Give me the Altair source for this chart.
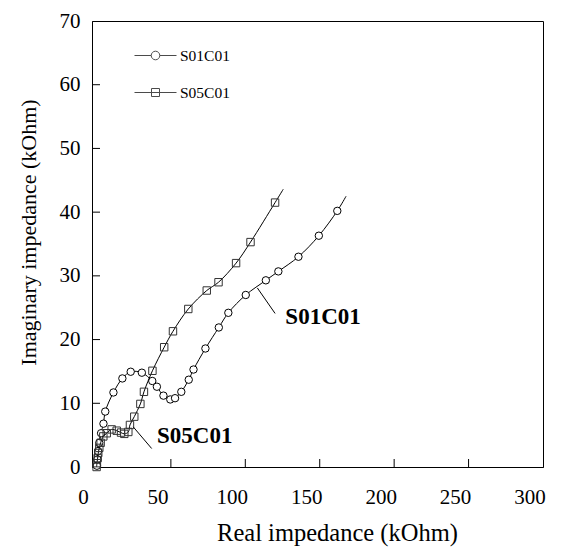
import altair as alt
import pandas as pd

# ---- data ----
series_names = ["S01C01", "S05C01"]

s01_x = [0.3, 0.6, 1.1, 1.9, 3.1, 4.7, 5.9, 11.4, 17.4, 23.0, 30.5, 37.5, 40.6, 45.0,
         49.6, 52.8, 57.0, 62.0, 65.2, 73.2, 82.2, 88.6, 100.3, 113.8, 122.2, 135.7,
         149.4, 161.8, 167.7]
s01_y = [0.2, 1.2, 2.5, 3.8, 5.3, 6.8, 8.7, 11.7, 13.9, 14.95, 14.8, 13.5, 12.6, 11.2,
         10.6, 10.8, 11.8, 13.7, 15.3, 18.6, 21.9, 24.2, 27.0, 29.3, 30.7, 33.0,
         36.3, 40.2, 42.5]

s05_x = [0.1, 0.3, 0.8, 1.2, 1.9, 2.8, 4.6, 6.9, 10.2, 13.6, 16.5, 18.7, 21.4, 22.5,
         25.4, 29.5, 31.9, 37.6, 45.5, 51.4, 61.7, 74.1, 82.0, 93.8, 103.5, 120.0, 125.5]
s05_y = [0.0, 0.6, 1.4, 2.2, 3.0, 3.8, 4.8, 5.3, 5.9, 5.7, 5.4, 5.2, 5.5, 6.6,
         7.9, 9.9, 11.8, 15.1, 18.8, 21.3, 24.8, 27.7, 29.0, 32.0, 35.3, 41.5, 43.6]

x_ticks = [0, 50, 100, 150, 200, 250, 300]
y_ticks = [0, 10, 20, 30, 40, 50, 60, 70]
inner_x_ticks = [50, 100, 150, 200, 250]
inner_y_ticks = [10, 20, 30, 40, 50, 60]
x_domain = [-3, 300]
y_domain = [0, 70]

note_labels = ["S01C01", "S05C01"]
note_x = [126.9, 40.7]
note_y = [23.6, 4.8]
leader_x = [108.1, 24.7]
leader_y = [28.1, 6.3]
leader_x2 = [120.0, 37.1]
leader_y2 = [24.1, 2.9]

# ---- tables ----
def series_df(xs, ys):
    n = len(xs)
    return pd.DataFrame({"x": xs, "y": ys, "order": list(range(n)),
                         "marker": [i < n - 1 for i in range(n)]})

df01 = series_df(s01_x, s01_y)
df05 = series_df(s05_x, s05_y)
notes = pd.DataFrame({"label": note_labels, "x": note_x, "y": note_y})
leaders = pd.DataFrame({"x": leader_x, "y": leader_y, "x2": leader_x2, "y2": leader_y2})
xt = pd.DataFrame({"t": inner_x_ticks})
yt = pd.DataFrame({"t": inner_y_ticks})
xl = pd.DataFrame({"t": x_ticks, "lab": [str(v) for v in x_ticks]})
legend_df = pd.DataFrame({"series": series_names})

FONT = "Liberation Serif"
xs = alt.Scale(domain=x_domain, nice=False, zero=False)
ys = alt.Scale(domain=y_domain, nice=False, zero=False)
xaxis = alt.Axis(title="Real impedance (kOhm)", values=x_ticks, ticks=False, tickSize=0,
                 labels=False, grid=False, domainColor="black", domainWidth=1,
                 titleX=245, titleY=73, titleBaseline="alphabetic",
                 titleAlign="center", titleFontSize=24.5, titleFont=FONT,
                 titleFontWeight="normal", titleColor="black")
yaxis = alt.Axis(title="Imaginary impedance (kOhm)", values=y_ticks, ticks=False, tickSize=0,
                 grid=False, labelPadding=12, labelFlush=False, labelOverlap=False,
                 labelFont=FONT, labelFontSize=21, labelColor="black",
                 domainColor="black", domainWidth=1,
                 titleX=-57, titleY=211, titleBaseline="alphabetic", titleAlign="center",
                 titleFontSize=22, titleFont=FONT, titleFontWeight="normal",
                 titleColor="black")

X = lambda f="x": alt.X(f"{f}:Q", scale=xs, axis=xaxis)
Y = lambda f="y": alt.Y(f"{f}:Q", scale=ys, axis=yaxis)

line01 = alt.Chart(df01).mark_line(color="black", strokeWidth=1, interpolate="catmull-rom").encode(
    x=X(), y=Y(), order="order:Q")
pts01 = alt.Chart(df01).transform_filter("datum.marker").mark_point(
    shape="circle", filled=True, fill="white", stroke="black", strokeWidth=1, size=55, opacity=1
).encode(x=X(), y=Y())
line05 = alt.Chart(df05).mark_line(color="black", strokeWidth=1, interpolate="catmull-rom").encode(
    x=X(), y=Y(), order="order:Q")
pts05 = alt.Chart(df05).transform_filter("datum.marker").mark_point(
    shape="square", filled=False, stroke="#333333", strokeWidth=1, size=55, opacity=1
).encode(x=X(), y=Y())

xtick_layer = alt.Chart(xt).mark_rule(color="black", strokeWidth=1).encode(
    x=X("t"), y=alt.value(446), y2=alt.value(438))
ytick_layer = alt.Chart(yt).mark_rule(color="black", strokeWidth=1).encode(
    y=Y("t"), x=alt.value(0), x2=alt.value(8))
xlabel_layer = alt.Chart(xl).mark_text(font=FONT, fontSize=21, color="black", dx=-13,
                                       align="center", baseline="middle").encode(
    x=X("t"), y=alt.value(477), text="lab:N")

leader_layer = alt.Chart(leaders).mark_rule(color="black", strokeWidth=1).encode(
    x=X(), y=Y(), x2="x2:Q", y2="y2:Q")
note_layer = alt.Chart(notes).mark_text(font=FONT, fontSize=23, fontWeight="bold",
                                        align="left", baseline="middle", color="black").encode(
    x=X(), y=Y(), text="label:N")

circle_path = ("M-2.1,0L-0.43,0M0.43,0L2.1,0M-0.43,0A0.43,0.43,0,1,1,0.43,0"
               "A0.43,0.43,0,1,1,-0.43,0Z")
square_path = "M-2.1,0L2.1,0M-0.4,-0.4L0.4,-0.4L0.4,0.4L-0.4,0.4Z"

legend_layer = alt.Chart(legend_df).transform_filter("false").mark_point(
    filled=False, color="black", strokeWidth=1, size=400
).encode(
    shape=alt.Shape("series:N",
                    scale=alt.Scale(domain=series_names, range=[circle_path, square_path]),
                    legend=alt.Legend(title=None, orient="none", legendX=53, legendY=24,
                                      direction="vertical", padding=0,
                                      labelFont=FONT, labelFontSize=15.5, labelColor="black",
                                      labelOffset=14, rowPadding=18, symbolSize=400,
                                      symbolStrokeWidth=1, symbolStrokeColor="black"))
)

chart = alt.layer(
    line01, pts01, line05, pts05, xtick_layer, ytick_layer, xlabel_layer,
    leader_layer, note_layer, legend_layer
).properties(
    width=451, height=446,
    background="white",
    autosize=alt.AutoSizeParams(type="none"),
    padding={"left": 84, "top": 13, "right": 11, "bottom": 80},
).configure_view(stroke="black", strokeWidth=1)

chart.save("out.html", embed_options={"renderer": "svg", "actions": False})
